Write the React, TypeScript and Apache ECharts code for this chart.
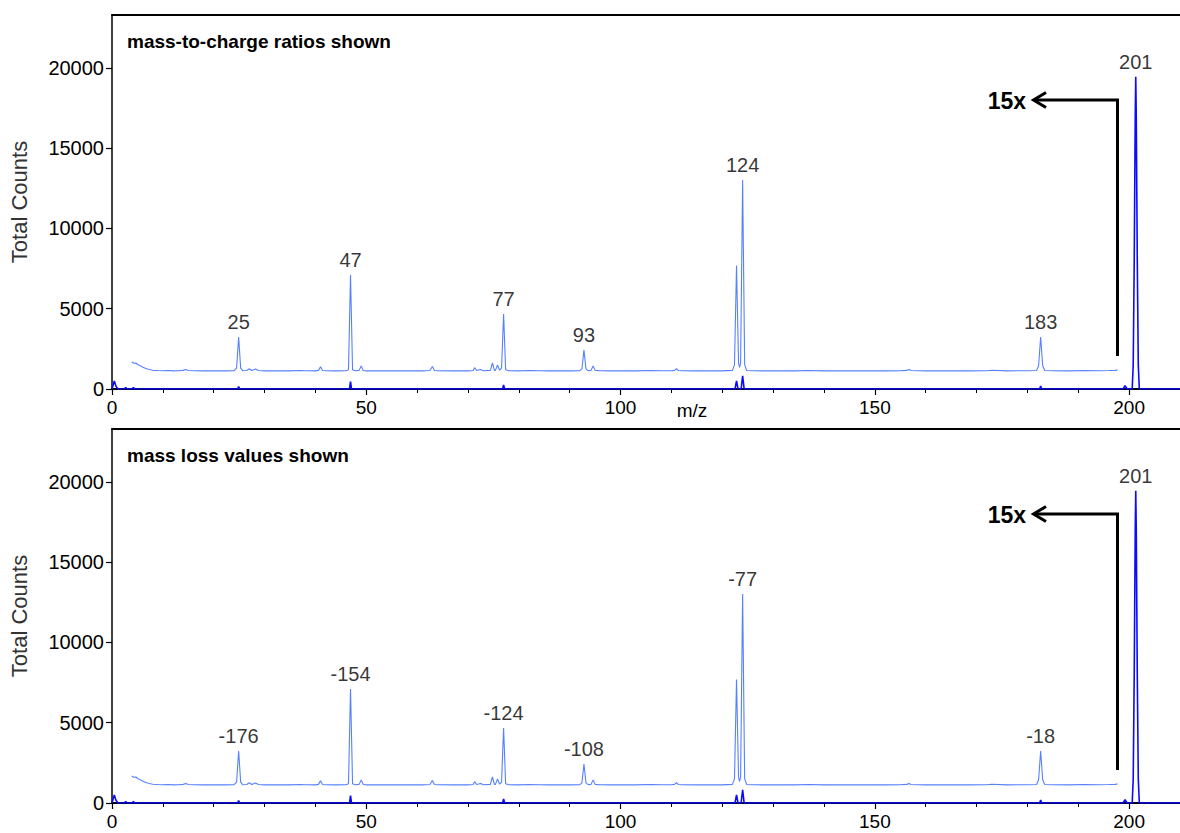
import React, { useEffect, useRef } from "react";
import * as echarts from "echarts";

// ---------- data ----------
// 15x magnified trace (light blue) : [m/z, counts]
const magTrace: [number, number][] = [
  [3.9, 1680], [4.3, 1600], [4.7, 1620], [5.1, 1510], [5.5, 1460], [5.9, 1380], [6.3, 1330],
  [6.8, 1260], [7.4, 1210], [8, 1170], [9, 1150], [10, 1140], [11, 1150], [12, 1130], [13, 1140],
  [14, 1160], [14.5, 1210], [15, 1150], [16, 1140], [18, 1130], [20, 1140], [22, 1130], [24, 1140],
  [24.5, 1300], [24.9, 3240], [25.3, 1300], [25.7, 1140], [26.5, 1150], [27, 1260], [27.5, 1150],
  [28.2, 1240], [28.8, 1150], [30, 1130], [33, 1140], [35, 1130], [37, 1150], [38, 1140], [40, 1130],
  [40.6, 1160], [41, 1380], [41.4, 1150], [42, 1140], [44, 1130], [46, 1140], [46.5, 1200],
  [46.9, 7100], [47.3, 1200], [47.8, 1140], [48.6, 1160], [49, 1440], [49.4, 1150], [50, 1130],
  [53, 1140], [56, 1130], [59, 1140], [61, 1130], [62.5, 1150], [63, 1400], [63.4, 1150], [64, 1140],
  [67, 1130], [70, 1130], [71, 1150], [71.3, 1330], [71.7, 1150], [72.5, 1220], [73, 1140],
  [74.4, 1160], [74.8, 1620], [75.2, 1160], [75.4, 1160], [75.8, 1500], [76.2, 1170], [76.6, 1300],
  [77, 4670], [77.4, 1200], [78, 1140], [80, 1130], [82, 1150], [84, 1140], [86, 1130], [88, 1140],
  [90, 1130], [92, 1140], [92.4, 1250], [92.8, 2430], [93.2, 1250], [93.6, 1140], [94.2, 1160],
  [94.6, 1440], [95, 1160], [96, 1140], [98, 1130], [100, 1140], [103, 1130], [106, 1150],
  [108, 1140], [110, 1140], [110.6, 1160], [111, 1260], [111.4, 1150], [112, 1140], [115, 1130],
  [118, 1140], [120, 1130], [122, 1160], [122.4, 1500], [122.8, 7700], [123.2, 1600], [123.4, 1350],
  [123.6, 1600], [124, 13020], [124.4, 1500], [124.8, 1150], [126, 1140], [128, 1130], [131, 1140],
  [134, 1130], [137, 1150], [140, 1130], [143, 1140], [146, 1130], [149, 1140], [152, 1130],
  [155, 1140], [156.3, 1160], [156.7, 1220], [157.1, 1150], [160, 1130], [164, 1140], [168, 1130],
  [172, 1140], [173, 1170], [176, 1130], [180, 1140], [181.8, 1150], [182.2, 1450], [182.6, 3240],
  [183, 1450], [183.4, 1150], [185, 1140], [188, 1130], [191, 1150], [194, 1140], [196, 1150],
  [197.3, 1160], [197.7, 1190],
];

// raw trace (dark blue) : [m/z, counts]
const rawTrace: [number, number][] = [
  [0, 0], [0.2, 220], [0.45, 500], [0.8, 150], [1.2, 0], [2.4, 0], [2.7, 90], [3.0, 0],
  [3.9, 0], [4.2, 90], [4.5, 0], [24.7, 0], [24.9, 160], [25.1, 0], [46.7, 0], [46.9, 460],
  [47.1, 0], [76.8, 0], [77, 260], [77.2, 0], [122.5, 0], [122.8, 500], [123.1, 0], [123.7, 0],
  [124, 820], [124.3, 0], [182.4, 0], [182.6, 190], [182.8, 0], [198.8, 0], [199.2, 200],
  [199.6, 0], [200.6, 0], [200.8, 1500], [201.0, 8000], [201.2, 17000], [201.3, 19460],
  [201.4, 17000], [201.6, 8000], [201.8, 1500], [202.0, 0], [210, 0],
];

// labelled peaks
const peakMz = [24.9, 46.9, 77, 92.8, 124, 182.6, 201.3];
const peakTop = [3240, 7100, 4670, 2430, 13020, 3240, 19460];
const topLabels = ["25", "47", "77", "93", "124", "183", "201"];
const bottomLabels = ["-176", "-154", "-124", "-108", "-77", "-18", "201"];

const titles = ["mass-to-charge ratios shown", "mass loss values shown"];
const xTicks = { min: 0, max: 210, major: 50, minor: 10 };
const yTicks = { min: 0, max: 23300, major: 5000, minor: 1000 };

// ---------- chart ----------
const FONT = "'Liberation Sans', Arial, sans-serif";
const PANEL_TOPS = [15, 429];
const PANEL_H = 374;

export default function App() {
  const ref = useRef<HTMLDivElement>(null);
  useEffect(() => {
    if (!ref.current) return;
    const chart = echarts.init(ref.current, undefined, { renderer: "svg" });

    const grids: any[] = [];
    const xAxes: any[] = [];
    const yAxes: any[] = [];
    const series: any[] = [];
    const graphics: any[] = [];

    PANEL_TOPS.forEach((top, p) => {
      grids.push({ left: 111, right: -4, top, height: PANEL_H, containLabel: false });
      const xBase = p * 3;
      const yBase = p * 2;
      // main x axis
      xAxes.push({
        gridIndex: p, type: "value", min: xTicks.min, max: xTicks.max, interval: xTicks.major,
        position: "bottom",
        axisLine: { show: true, onZero: false, lineStyle: { color: "#000", width: 2 } },
        axisTick: { show: true, length: 6, lineStyle: { color: "#000", width: 1.2 } },
        axisLabel: {
          show: true, margin: 9, fontFamily: FONT, fontSize: 19, color: "#000",
          formatter: (v: number) => (v % xTicks.major === 0 ? String(v) : ""),
          showMaxLabel: false,
        },
        splitLine: { show: false },
      });
      // minor x ticks
      xAxes.push({
        gridIndex: p, type: "value", min: xTicks.min, max: xTicks.max, interval: xTicks.minor,
        position: "bottom",
        axisLine: { show: false, onZero: false },
        axisTick: { show: true, length: 4, lineStyle: { color: "#000", width: 1 } },
        axisLabel: { show: false },
        splitLine: { show: false },
      });
      // top frame line
      xAxes.push({
        gridIndex: p, type: "value", min: xTicks.min, max: xTicks.max, position: "top",
        axisLine: { show: true, onZero: false, lineStyle: { color: "#000", width: 2 } },
        axisTick: { show: false }, axisLabel: { show: false }, splitLine: { show: false },
      });
      // main y axis
      yAxes.push({
        gridIndex: p, type: "value", min: yTicks.min, max: yTicks.max, interval: yTicks.major,
        name: "Total Counts", nameLocation: "middle", nameGap: 82,
        nameTextStyle: { fontFamily: FONT, fontSize: 22, color: "#333" },
        axisLine: { show: true, onZero: false, lineStyle: { color: "#000", width: 1.5 } },
        axisTick: { show: true, length: 6, lineStyle: { color: "#000", width: 1.2 } },
        axisLabel: {
          show: true, margin: 8, fontFamily: FONT, fontSize: 20, color: "#000",
          formatter: (v: number) => (v % yTicks.major === 0 ? String(v) : ""),
          showMaxLabel: false,
        },
        splitLine: { show: false },
      });
      // minor y ticks
      yAxes.push({
        gridIndex: p, type: "value", min: yTicks.min, max: yTicks.max, interval: yTicks.minor,
        axisLine: { show: false, onZero: false },
        axisTick: { show: true, length: 4, lineStyle: { color: "#000", width: 1 } },
        axisLabel: { show: false }, splitLine: { show: false },
      });

      series.push({
        type: "line", xAxisIndex: xBase, yAxisIndex: yBase, data: magTrace, showSymbol: false,
        symbol: "none", lineStyle: { color: "#5580ff", width: 1.1 }, z: 3,
      });
      series.push({
        type: "line", xAxisIndex: xBase, yAxisIndex: yBase, data: rawTrace, showSymbol: false,
        symbol: "none", lineStyle: { color: "#0a0aff", width: 1.6 }, z: 4,
      });
      const labels = p === 0 ? topLabels : bottomLabels;
      series.push({
        type: "scatter", xAxisIndex: xBase, yAxisIndex: yBase, symbolSize: 0.1,
        itemStyle: { color: "rgba(0,0,0,0)" },
        data: peakMz.map((m, i) => ({ value: [m, peakTop[i]], name: labels[i] })),
        label: {
          show: true, position: "top", distance: 5, formatter: (d: any) => d.name,
          fontFamily: FONT, fontSize: 20, color: "#000",
        },
        z: 5, silent: true,
      });

      const dy = top - PANEL_TOPS[0];
      graphics.push({
        type: "text", x: 127, y: 41 + dy,
        style: {
          text: titles[p], fontFamily: FONT, fontWeight: "bold", fontSize: 19, fill: "#000",
          textVerticalAlign: "middle",
        },
      });
      graphics.push({
        type: "polyline",
        shape: { points: [[1117.5, 356 + dy], [1117.5, 100 + dy], [1034, 100 + dy]] },
        style: { stroke: "#000", lineWidth: 3, fill: null },
      });
      graphics.push({
        type: "polyline",
        shape: { points: [[1046, 92.5 + dy], [1033.5, 100 + dy], [1046, 107.5 + dy]] },
        style: { stroke: "#000", lineWidth: 3, fill: null },
      });
      graphics.push({
        type: "text", x: 1026, y: 101 + dy,
        style: {
          text: "15x", fontFamily: FONT, fontWeight: "bold", fontSize: 23, fill: "#000",
          textAlign: "right", textVerticalAlign: "middle",
        },
      });
    });

    graphics.push({
      type: "text", x: 692, y: 410,
      style: { text: "m/z", fontFamily: FONT, fontSize: 19, fill: "#000", textAlign: "center", textVerticalAlign: "middle" },
    });

    chart.setOption({
      animation: false,
      backgroundColor: "#fff",
      grid: grids,
      xAxis: xAxes,
      yAxis: yAxes,
      series,
      graphic: graphics,
    });
    return () => chart.dispose();
  }, []);

  return (
    <div
      ref={ref}
      style={{ position: "fixed", left: 0, top: 0, width: 1180, height: 833, overflow: "hidden", background: "#fff" }}
    />
  );
}
